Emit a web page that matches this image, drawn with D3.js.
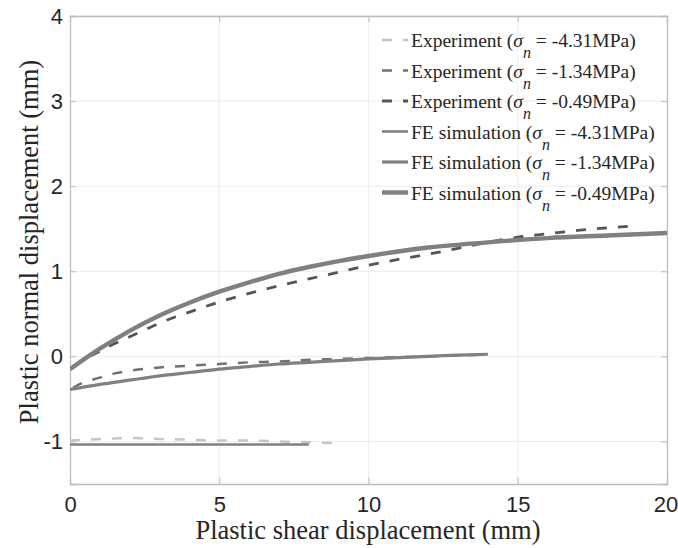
<!DOCTYPE html>
<html>
<head>
<meta charset="utf-8">
<script src="https://cdn.jsdelivr.net/npm/d3@7/dist/d3.min.js"></script>
<style>
  html, body { margin: 0; padding: 0; background: #fff; }
  svg { display: block; }
</style>
</head>
<body>
<svg id="chart" width="678" height="548"></svg>
<script>
// Plastic shear vs. normal displacement: experiments and FE simulations
const xTicks = [0, 5, 10, 15, 20];
const yTicks = [-1, 0, 1, 2, 3, 4];

// Experiment, sigma_n = -4.31 MPa
const exp431X = [0, 0.5, 1, 1.5, 2, 2.5, 3, 4, 5, 6, 7, 8, 8.9];
const exp431Y = [-0.99, -0.98, -0.97, -0.965, -0.96, -0.965, -0.97, -0.98, -0.99, -0.99, -1.0, -1.01, -1.02];
// Experiment, sigma_n = -1.34 MPa
const exp134X = [0.1, 0.5, 1, 1.5, 2, 3, 4, 5, 6, 7, 8, 9, 10, 11, 12, 13, 13.8];
const exp134Y = [-0.37, -0.3, -0.25, -0.2, -0.17, -0.13, -0.11, -0.09, -0.07, -0.06, -0.04, -0.03, -0.02, -0.01, 0.0, 0.01, 0.02];
// Experiment, sigma_n = -0.49 MPa
const exp049X = [0.1, 0.5, 1, 1.5, 2, 2.5, 3, 3.5, 4, 5, 6, 7, 8, 9, 10, 11, 12, 13, 14, 15, 16, 17, 18, 18.8];
const exp049Y = [-0.13, -0.03, 0.06, 0.15, 0.23, 0.31, 0.39, 0.46, 0.52, 0.64, 0.74, 0.83, 0.91, 0.99, 1.07, 1.14, 1.2, 1.27, 1.34, 1.4, 1.44, 1.48, 1.51, 1.53];

// FE simulation, sigma_n = -4.31 MPa
const fe431X = [0, 2, 4, 6, 8];
const fe431Y = [-1.035, -1.035, -1.035, -1.035, -1.035];
// FE simulation, sigma_n = -1.34 MPa
const fe134X = [0, 1, 2, 3, 4, 5, 6, 7, 8, 9, 10, 11, 12, 13, 14];
const fe134Y = [-0.39, -0.33, -0.28, -0.23, -0.19, -0.15, -0.12, -0.09, -0.07, -0.05, -0.03, -0.015, 0.0, 0.015, 0.025];
// FE simulation, sigma_n = -0.49 MPa
const fe049X = [0, 1, 2, 3, 4, 5, 6, 7, 8, 9, 10, 12, 14, 16, 18, 20];
const fe049Y = [-0.15, 0.09, 0.3, 0.48, 0.63, 0.76, 0.87, 0.97, 1.05, 1.12, 1.18, 1.28, 1.34, 1.39, 1.42, 1.45];

const legendLabels = [
  ["Experiment (", " = -4.31MPa)"],
  ["Experiment (", " = -1.34MPa)"],
  ["Experiment (", " = -0.49MPa)"],
  ["FE simulation (", " = -4.31MPa)"],
  ["FE simulation (", " = -1.34MPa)"],
  ["FE simulation (", " = -0.49MPa)"]
];

const series = [
  { xs: exp431X, ys: exp431Y, color: "#c6c6c6", width: 2.5, dash: "10,11" },
  { xs: exp134X, ys: exp134Y, color: "#727272", width: 2.5, dash: "10,11" },
  { xs: exp049X, ys: exp049Y, color: "#555555", width: 2.8, dash: "10,11" },
  { xs: fe431X, ys: fe431Y, color: "#808080", width: 2.6, dash: null },
  { xs: fe134X, ys: fe134Y, color: "#808080", width: 3.2, dash: null },
  { xs: fe049X, ys: fe049Y, color: "#808080", width: 4.4, dash: null }
];

const svg = d3.select("#chart");
const plotL = 70, plotT = 16, plotR = 667, plotB = 484;

const x = d3.scaleLinear().domain([0, 20]).range([plotL, plotR]);
const y = d3.scaleLinear().domain([-1.5, 4]).range([plotB, plotT]);

const axisColor = "#bdbdbd";
const gridColor = "#ececec";
const textColor = "#262626";

// grid
const grid = svg.append("g");
grid.selectAll(".gx").data(xTicks.slice(1, -1)).join("line")
  .attr("x1", d => x(d)).attr("x2", d => x(d))
  .attr("y1", plotT).attr("y2", plotB)
  .attr("stroke", gridColor).attr("stroke-width", 1);
grid.selectAll(".gy").data(yTicks).join("line")
  .attr("x1", plotL).attr("x2", plotR)
  .attr("y1", d => y(d)).attr("y2", d => y(d))
  .attr("stroke", gridColor).attr("stroke-width", 1);

// axes (ticks inside)
const tickLen = 6;
const fmt = d => String(d);
const xAxis = d3.axisBottom(x).tickValues(xTicks).tickFormat(fmt).tickSize(-tickLen).tickPadding(12);
const yAxis = d3.axisLeft(y).tickValues(yTicks).tickFormat(fmt).tickSize(-tickLen).tickPadding(7);
const xTop = d3.axisTop(x).tickValues(xTicks).tickSize(-tickLen).tickFormat("");
const yRight = d3.axisRight(y).tickValues(yTicks).tickSize(-tickLen).tickFormat("");

function styleAxis(g) {
  g.select(".domain").attr("stroke", axisColor).attr("stroke-width", 1.3);
  g.selectAll(".tick line").attr("stroke", axisColor).attr("stroke-width", 1);
  g.selectAll(".tick text")
    .attr("fill", textColor)
    .style("font-family", "'Liberation Sans', Arial, sans-serif")
    .style("font-size", "22px");
}

const gx = svg.append("g").attr("transform", `translate(0,${plotB})`).call(xAxis).call(styleAxis);
// keep the last x label inside the page edge
gx.selectAll(".tick text").filter(d => d === 20).attr("dx", -1.5);
svg.append("g").attr("transform", `translate(${plotL},0)`).call(yAxis).call(styleAxis);
svg.append("g").attr("transform", `translate(0,${plotT})`).call(xTop).call(styleAxis);
svg.append("g").attr("transform", `translate(${plotR},0)`).call(yRight).call(styleAxis);

// curves
svg.append("clipPath").attr("id", "plotArea")
  .append("rect").attr("x", plotL).attr("y", plotT)
  .attr("width", plotR - plotL).attr("height", plotB - plotT);

const line = d3.line().x(d => x(d[0])).y(d => y(d[1])).curve(d3.curveMonotoneX);
const plot = svg.append("g").attr("clip-path", "url(#plotArea)");
series.forEach(s => {
  const pts = s.xs.map((v, i) => [v, s.ys[i]]);
  plot.append("path")
    .attr("d", line(pts))
    .attr("fill", "none")
    .attr("stroke", s.color)
    .attr("stroke-width", s.width)
    .attr("stroke-dasharray", s.dash)
    .attr("stroke-linejoin", "round");
});

// legend
const serif = "'Liberation Serif', 'Times New Roman', serif";
const legend = svg.append("g");
const lx0 = 382, lx1 = 408, ltx = 411, ly0 = 40, lstep = 30.5;
series.forEach((s, i) => {
  const yy = ly0 + i * lstep;
  legend.append("line")
    .attr("x1", lx0).attr("x2", lx1).attr("y1", yy).attr("y2", yy)
    .attr("stroke", s.color).attr("stroke-width", s.width)
    .attr("stroke-dasharray", s.dash);
  const t = legend.append("text")
    .attr("x", ltx).attr("y", yy + 7)
    .attr("fill", textColor)
    .style("font-family", serif)
    .style("font-size", "19.5px");
  t.append("tspan").text(legendLabels[i][0]);
  t.append("tspan").style("font-style", "italic").text("σ");
  t.append("tspan").attr("dy", 11).style("font-style", "italic").style("font-size", "16px").text("n");
  t.append("tspan").attr("dy", -11).text(legendLabels[i][1]);
});

// axis titles
svg.append("text")
  .attr("x", 368).attr("y", 539)
  .attr("text-anchor", "middle")
  .attr("fill", textColor)
  .style("font-family", serif)
  .style("font-size", "26.5px")
  .text("Plastic shear displacement (mm)");

svg.append("text")
  .attr("transform", `translate(38,${242}) rotate(-90)`)
  .attr("text-anchor", "middle")
  .attr("fill", textColor)
  .style("font-family", serif)
  .style("font-size", "26.5px")
  .text("Plastic normal displacement (mm)");
</script>
</body>
</html>
